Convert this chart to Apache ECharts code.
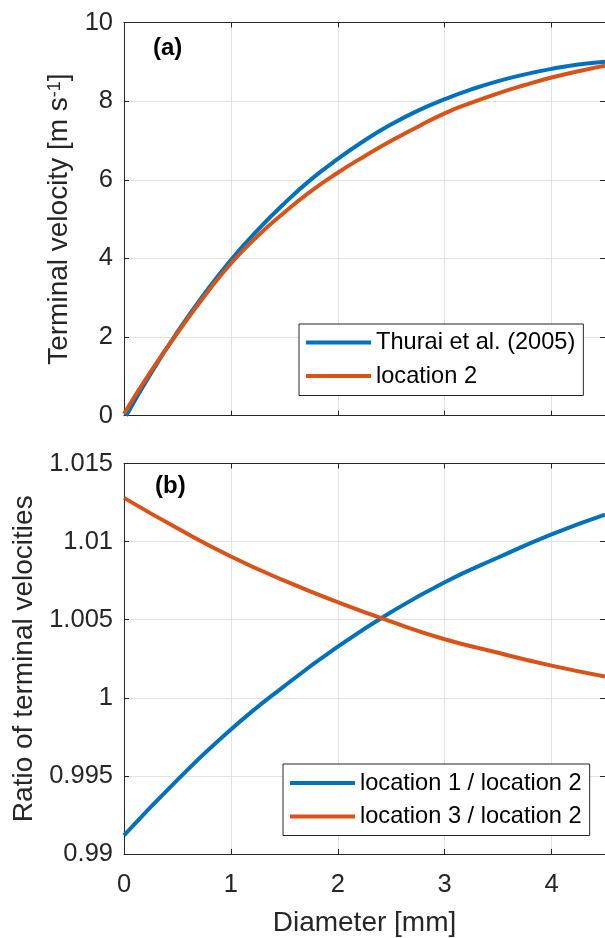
<!DOCTYPE html>
<html>
<head>
<meta charset="utf-8">
<script src="https://cdn.jsdelivr.net/npm/echarts@6/dist/echarts.min.js"></script>
<style>
  html, body { margin: 0; padding: 0; background: #fff; }
  #chart { width: 605px; height: 938px; }
</style>
</head>
<body>
<div id="chart"></div>
<script>
// ---- Panel (a): terminal velocity [m s^-1] vs diameter [mm] ----
const diamThurai = [0.02, 0.25, 0.5, 0.75, 1, 1.25, 1.5, 1.75, 2, 2.25, 2.5, 2.75, 3, 3.25, 3.5, 3.75, 4, 4.25, 4.5];
const velThurai  = [0.00, 1.07, 2.13, 3.09, 3.96, 4.72, 5.40, 6.01, 6.53, 7.00, 7.41, 7.76, 8.05, 8.30, 8.51, 8.68, 8.82, 8.93, 9.00];
const diamLoc2   = [0, 0.25, 0.5, 0.75, 1, 1.25, 1.5, 1.75, 2, 2.25, 2.5, 2.75, 3, 3.25, 3.5, 3.75, 4, 4.25, 4.5];
const velLoc2    = [0.05, 1.12, 2.10, 3.03, 3.87, 4.57, 5.17, 5.71, 6.18, 6.60, 6.99, 7.35, 7.69, 7.96, 8.20, 8.41, 8.60, 8.76, 8.90];

// ---- Panel (b): ratio of terminal velocities ----
const diamRatio  = [0, 0.5, 1, 1.5, 2, 2.5, 3, 3.5, 4, 4.5];
const ratio12    = [0.99119, 0.99475, 0.99797, 1.00075, 1.00327, 1.00549, 1.00740, 1.00898, 1.01046, 1.01172];
const ratio32    = [1.01280, 1.01085, 1.00905, 1.00750, 1.00612, 1.00487, 1.00375, 1.00288, 1.00206, 1.00136];

const namesTop = ['Thurai et al. (2005)', 'location 2'];
const namesBot = ['location 1 / location 2', 'location 3 / location 2'];
const panelLabels = ['(a)', '(b)'];

const FONT = '"Liberation Sans", Arial, Helvetica, sans-serif';
const AX = '#262626';
const GRIDC = '#e3e3e3';
const BLUE = '#0072BD';
const ORANGE = '#D95319';

function pairs(xs, ys) { return xs.map((x, i) => [x, ys[i]]); }

function xAx(grid, pos, labels, extra) {
  return Object.assign({
    type: 'value', gridIndex: grid, position: pos, min: 0, max: 4.5, interval: 1,
    axisLine: { show: true, onZero: false, lineStyle: { color: AX, width: 1 } },
    axisTick: { show: true, inside: true, length: 5, lineStyle: { color: AX } },
    axisLabel: { show: labels, showMaxLabel: false, fontSize: 25.5, fontFamily: FONT, color: AX, margin: 18 },
    splitLine: { show: pos === 'bottom', lineStyle: { color: GRIDC, width: 1 } }
  }, extra || {});
}
function yAx(grid, pos, min, max, interval, labels, extra) {
  return Object.assign({
    type: 'value', gridIndex: grid, position: pos, min: min, max: max, interval: interval,
    axisLine: { show: true, onZero: false, lineStyle: { color: AX, width: 1 } },
    axisTick: { show: true, inside: true, length: 5, lineStyle: { color: AX } },
    axisLabel: { show: labels, fontSize: 25.5, fontFamily: FONT, color: AX, margin: 11,
      formatter: v => String(Math.round(v * 1000) / 1000) },
    splitLine: { show: pos === 'left', lineStyle: { color: GRIDC, width: 1 } }
  }, extra || {});
}

const legendCommon = {
  orient: 'vertical', icon: 'rect', itemWidth: 65, itemHeight: 4, itemGap: 9.5,
  borderColor: AX, borderWidth: 1, backgroundColor: '#fff', borderRadius: 0,
  textStyle: { fontSize: 23.6, fontFamily: FONT, color: '#000', lineHeight: 23 }
};

function lineSeries(name, xi, yi, data, color) {
  return { name: name, type: 'line', xAxisIndex: xi, yAxisIndex: yi, data: data,
    showSymbol: false, smooth: 0.5, color: color,
    lineStyle: { width: 4, color: color } };
}

const chart = echarts.init(document.getElementById('chart'), null, { renderer: 'canvas' });
chart.setOption({
  animation: false,
  backgroundColor: '#fff',
  grid: [
    { left: 124, top: 22.5, width: 485.6, height: 393.2 },
    { left: 124, top: 463.5, width: 485.6, height: 393.2 }
  ],
  xAxis: [
    xAx(0, 'bottom', false),
    xAx(0, 'top', false),
    xAx(1, 'bottom', true, {
      name: 'Diameter [mm]', nameLocation: 'middle', nameGap: 55,
      nameTextStyle: { fontSize: 28, fontFamily: FONT, color: AX }
    }),
    xAx(1, 'top', false)
  ],
  yAxis: [
    yAx(0, 'left', 0, 10, 2, true, {
      name: '{n|Terminal velocity [m s}{s|-1}{n|]}', nameLocation: 'middle', nameRotate: 90, nameGap: 39,
      nameTextStyle: {
        fontSize: 28, fontFamily: FONT, color: AX,
        rich: {
          n: { fontSize: 28, fontFamily: FONT, color: AX, lineHeight: 28, verticalAlign: 'bottom' },
          s: { fontSize: 18, fontFamily: FONT, color: AX, lineHeight: 18, verticalAlign: 'top' }
        }
      }
    }),
    yAx(0, 'right', 0, 10, 2, false),
    yAx(1, 'left', 0.99, 1.015, 0.005, true, {
      name: 'Ratio of terminal velocities', nameLocation: 'middle', nameRotate: 90, nameGap: 84,
      nameTextStyle: { fontSize: 28, fontFamily: FONT, color: AX }
    }),
    yAx(1, 'right', 0.99, 1.015, 0.005, false)
  ],
  legend: [
    Object.assign({}, legendCommon, { data: namesTop, left: 299, top: 324, padding: [6.5, 8, 7.5, 7] }),
    Object.assign({}, legendCommon, { data: namesBot, left: 283, top: 764, padding: [7, 8, 7, 7] })
  ],
  series: [
    lineSeries(namesTop[0], 0, 0, pairs(diamThurai, velThurai), BLUE),
    lineSeries(namesTop[1], 0, 0, pairs(diamLoc2, velLoc2), ORANGE),
    lineSeries(namesBot[0], 2, 2, pairs(diamRatio, ratio12), BLUE),
    lineSeries(namesBot[1], 2, 2, pairs(diamRatio, ratio32), ORANGE)
  ],
  graphic: [
    { type: 'text', left: 153, top: 36, style: { text: panelLabels[0], font: 'bold 24px ' + FONT, fill: '#000' } },
    { type: 'text', left: 155, top: 474, style: { text: panelLabels[1], font: 'bold 24px ' + FONT, fill: '#000' } }
  ]
});
</script>
</body>
</html>
